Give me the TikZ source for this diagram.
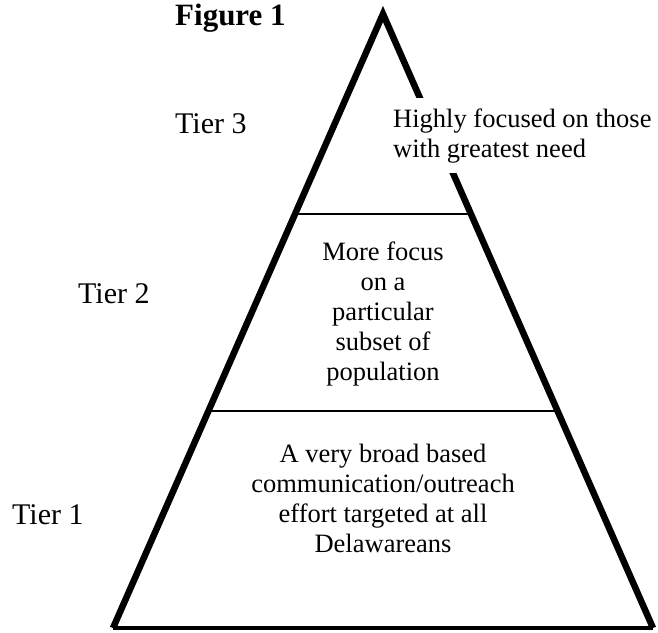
\documentclass[tikz,border=0pt]{standalone}
\usepackage{fontspec}
\setmainfont{Liberation Serif}
\usetikzlibrary{calc}

\begin{document}
\begin{tikzpicture}[x=1pt,y=-1pt,side line/.style={line width=6.5pt,line join=miter},divider/.style={line width=2pt},tier node/.style={font=\fontsize{30}{34}\selectfont,anchor=base west,inner sep=0pt},text node/.style={font=\fontsize{26.5}{30}\selectfont,align=center,anchor=base,inner sep=0pt}]
\useasboundingbox (0,0) rectangle (658,632);
\coordinate (apex) at (383,14);
\coordinate (bl) at (113,628);
\coordinate (br) at (653,628);
\coordinate (l2) at ($(apex)!0.326!(bl)$);
\coordinate (r2) at ($(apex)!0.326!(br)$);
\coordinate (l1) at ($(apex)!0.647!(bl)$);
\coordinate (r1) at ($(apex)!0.647!(br)$);
\begin{scope}
\draw[divider] (l2) -- (r2);
\draw[divider] (l1) -- (r1);
\draw[line width=3.5pt] (bl) -- (br);
\draw[side line] (bl) -- (apex) -- (br);
\end{scope}
\begin{scope}
\node[tier node,font=\fontsize{31}{34}\selectfont\bfseries] (fig) at (175,25) {Figure 1};
\node[tier node] (t3) at (175,133) {Tier 3};
\node[tier node] (t2) at (78,303) {Tier 2};
\node[tier node] (t1) at (12,524) {Tier 1};
% multi-line nodes sit on their last line
\node[text node,anchor=base west,align=left,fill=white,inner xsep=8pt,inner ysep=10pt] (txt3) at (385,157) {Highly focused on those\\with greatest need};
\node[text node] (txt2) at (383,380) {More focus\\on a\\particular\\subset of\\population};
\node[text node] (txt1) at (383,552) {A very broad based\\communication/outreach\\effort targeted at all\\Delawareans};
\end{scope}
\end{tikzpicture}
\end{document}
